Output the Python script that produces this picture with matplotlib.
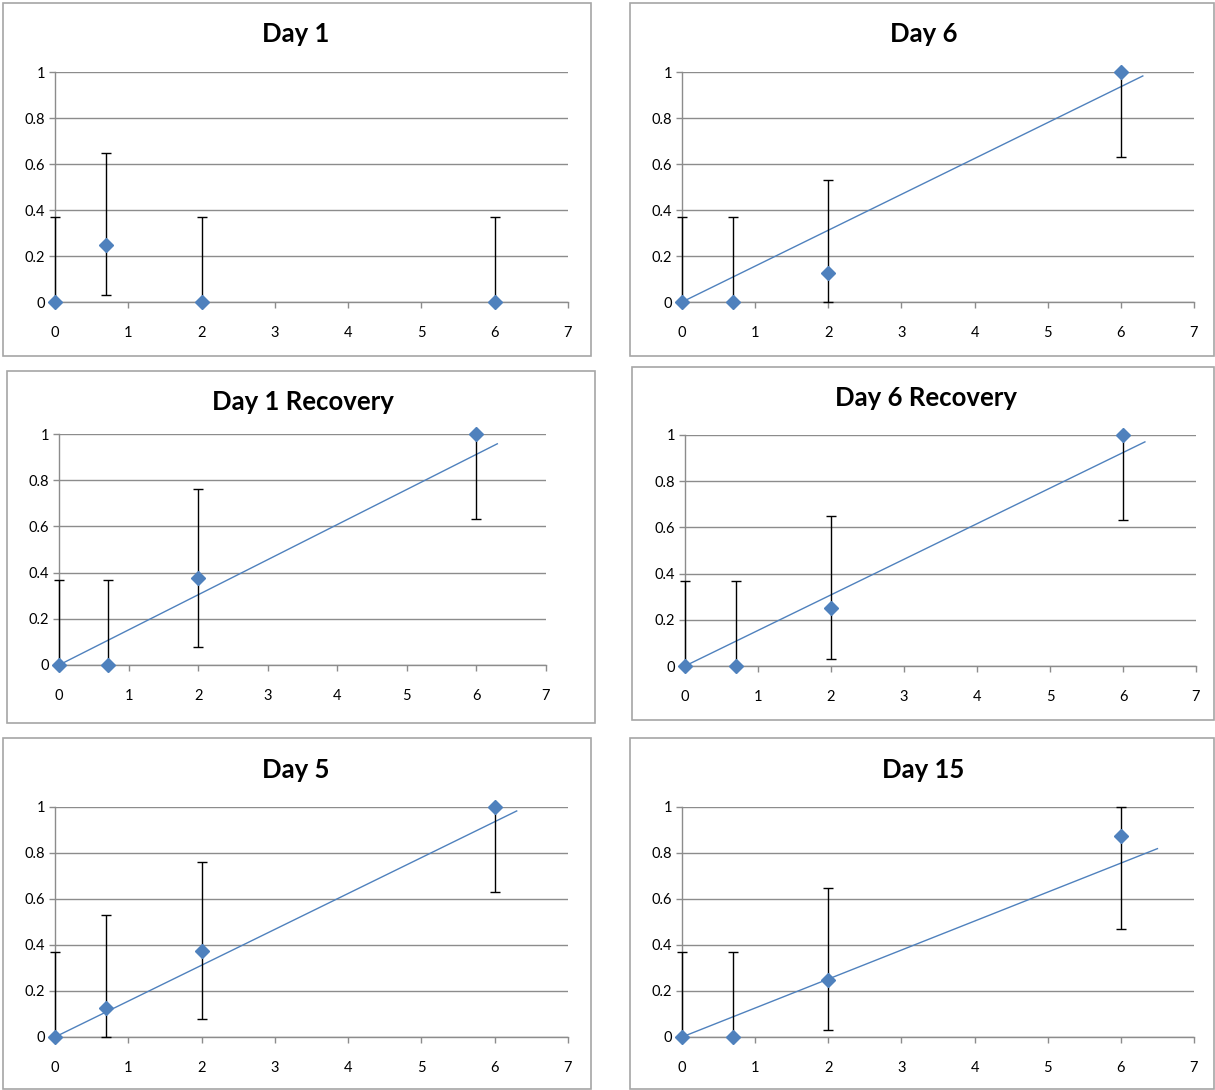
"""
Six small dose-response panels in the old spreadsheet style:
diamond markers, asymmetric error bars and a linear trend line.
"""

import matplotlib
import matplotlib.pyplot as plt
from matplotlib.patches import Rectangle

matplotlib.use("Agg")

plt.rcParams["font.family"] = ["Lato", "DejaVu Sans"]

# ---------------------------------------------------------------------------
# Data
# ---------------------------------------------------------------------------

TITLES = ["Day 1", "Day 6", "Day 1 Recovery", "Day 6 Recovery", "Day 5", "Day 15"]

DOSE = [0, 0.7, 2, 6]

day1_y = [0, 0.25, 0, 0]
day1_lo = [0, 0.03, 0, 0]
day1_hi = [0.37, 0.65, 0.37, 0.37]

day6_y = [0, 0, 0.125, 1]
day6_lo = [0, 0, 0, 0.63]
day6_hi = [0.37, 0.37, 0.53, 1]

day1rec_y = [0, 0, 0.375, 1]
day1rec_lo = [0, 0, 0.08, 0.63]
day1rec_hi = [0.37, 0.37, 0.76, 1]

day6rec_y = [0, 0, 0.25, 1]
day6rec_lo = [0, 0, 0.03, 0.63]
day6rec_hi = [0.37, 0.37, 0.65, 1]

day5_y = [0, 0.125, 0.375, 1]
day5_lo = [0, 0, 0.08, 0.63]
day5_hi = [0.37, 0.53, 0.76, 1]

day15_y = [0, 0, 0.25, 0.875]
day15_lo = [0, 0, 0.03, 0.47]
day15_hi = [0.37, 0.37, 0.65, 1]

# trend line: slope (through origin) and how far it runs along x; None = no trend
TREND_SLOPE = [None, 0.156, 0.152, 0.154, 0.156, 0.126]
TREND_END = [None, 6.3, 6.3, 6.3, 6.3, 6.5]

SERIES = [
    (day1_y, day1_lo, day1_hi),
    (day6_y, day6_lo, day6_hi),
    (day1rec_y, day1rec_lo, day1rec_hi),
    (day6rec_y, day6rec_lo, day6rec_hi),
    (day5_y, day5_lo, day5_hi),
    (day15_y, day15_lo, day15_hi),
]

X_TICKS = [0, 1, 2, 3, 4, 5, 6, 7]
Y_TICKS = [0, 0.2, 0.4, 0.6, 0.8, 1]
Y_LABELS = ["0", "0.2", "0.4", "0.6", "0.8", "1"]

# ---------------------------------------------------------------------------
# Layout (pixels): frame box, plot area, title centre
# ---------------------------------------------------------------------------

W, H = 1215, 1090
FRAMES = [(3, 3, 591, 356), (630, 3, 1214, 356),
          (7, 371, 595, 723), (632, 367, 1214, 720),
          (3, 738, 591, 1089), (630, 738, 1214, 1089)]
PLOTS = [(55, 72, 568, 302), (682, 72, 1194, 302),
         (59, 434, 546, 665), (685, 435, 1196, 666),
         (55, 807, 568, 1037), (682, 807, 1194, 1037)]
TITLE_POS = [(296, 34), (924, 34), (303, 402), (926, 398), (296, 770), (923, 770)]

BLUE = "#4F81BD"
GRID = "#8C8C8C"


def _fig_box(x0, y0, x1, y1):
    """Convert a pixel box (top-left origin) to figure fractions."""
    return x0 / W, 1 - y1 / H, (x1 - x0) / W, (y1 - y0) / H


fig = plt.figure(figsize=(W / 100, H / 100), dpi=100)
fig.patch.set_facecolor("white")

for i, title in enumerate(TITLES):
    fx, fy, fw, fh = _fig_box(*FRAMES[i])
    fig.patches.append(Rectangle((fx, fy), fw, fh, transform=fig.transFigure,
                                 facecolor="none", edgecolor="#A6A6A6", linewidth=1.2))

    ax = fig.add_axes(_fig_box(*PLOTS[i]))
    y, lo, hi = SERIES[i]
    yerr = [[v - l for v, l in zip(y, lo)], [h - v for v, h in zip(y, hi)]]

    ax.errorbar(DOSE, y, yerr=yerr, fmt="none", ecolor="black", elinewidth=1,
                capsize=3.5, capthick=1, zorder=3, clip_on=False)
    ax.plot(DOSE, y, linestyle="none", marker="D", markersize=7.5,
            color=BLUE, zorder=4, clip_on=False)

    if TREND_SLOPE[i] is not None:
        xe = TREND_END[i]
        ax.plot([0, xe], [0, TREND_SLOPE[i] * xe], color=BLUE, linewidth=1, zorder=2)

    ax.set_xlim(0, 7)
    ax.set_ylim(0, 1)
    ax.set_xticks(X_TICKS)
    ax.set_yticks(Y_TICKS)
    ax.set_yticklabels(Y_LABELS)
    ax.tick_params(axis="both", labelsize=10.5, colors=GRID, labelcolor="black",
                   length=4, width=1, direction="out")
    ax.tick_params(axis="x", pad=13)
    ax.tick_params(axis="y", pad=3)
    ax.grid(axis="y", color=GRID, linewidth=1)
    ax.set_axisbelow(True)
    for side in ("top", "right"):
        ax.spines[side].set_visible(False)
    for side in ("left", "bottom"):
        ax.spines[side].set_color(GRID)
        ax.spines[side].set_linewidth(1)

    tx, ty = TITLE_POS[i]
    fig.text(tx / W, 1 - ty / H, title, ha="center", va="center",
             fontsize=18.5, fontweight="bold")

fig.savefig("out.png", dpi=100)
plt.close(fig)
